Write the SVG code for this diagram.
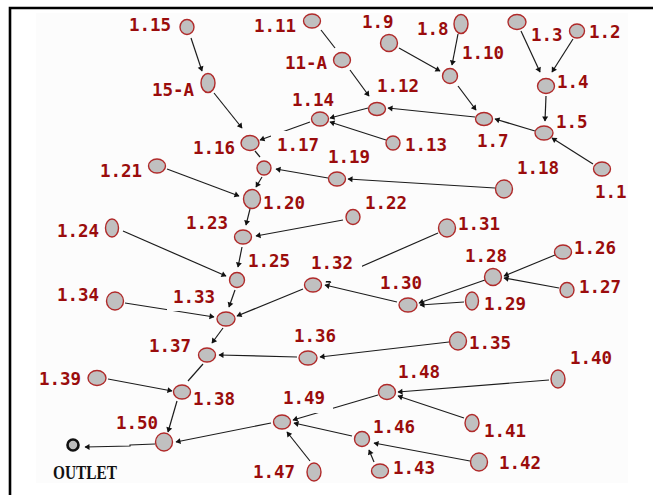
<svg xmlns="http://www.w3.org/2000/svg" width="653" height="495" viewBox="0 0 653 495">
<style>
.lbl{font-family:"DejaVu Sans Mono","Liberation Mono",monospace;font-weight:bold;font-size:17.5px;fill:#9a0c0c}
.out{font-family:"Liberation Serif","DejaVu Serif",serif;font-weight:bold;font-size:18px;fill:#111}
.nd{fill:#c0c0c0;stroke:#b02a2a;stroke-width:1.4}
.bg{fill:#fcfcfc}
.cn path{fill:none;stroke:#1c1c1c;stroke-width:1.2}
.cn .a{marker-end:url(#ah)}
</style>
<defs>
<marker id="ah" viewBox="-6 -4 7 8" refX="0" refY="0" markerWidth="7" markerHeight="8" markerUnits="userSpaceOnUse" orient="auto">
<path d="M0.5,0 L-4.5,-3 L-4.5,3 Z" fill="#111"/>
</marker>
</defs>
<rect x="0" y="0" width="653" height="495" fill="#ffffff"/>
<rect x="36" y="13" width="592" height="470" fill="#fcfcfc"/>
<path d="M10,495 V8 H653" fill="none" stroke="#000" stroke-width="2.6"/>

<g id="connectors" class="cn">
<path class="a" d="M191,38 L202,71"/>
<path class="a" d="M214,93 L242,128"/>
<path d="M321,30 L335,48"/>
<path class="a" d="M350,70 L369,96"/>
<path class="a" d="M475,117 L388,108"/>
<path class="a" d="M368,108 L330,118"/>
<path class="a" d="M386,140 L330,122"/>
<path class="a" d="M310,122 L260,140"/>
<path class="a" d="M399,48 L440,71"/>
<path class="a" d="M458,34 L452,65"/>
<path class="a" d="M458,86 L476,110"/>
<path class="a" d="M521,31 L540,72"/>
<path class="a" d="M573,39 L552,72"/>
<path class="a" d="M546,96 L545,121"/>
<path class="a" d="M535,131 L495,119"/>
<path class="a" d="M593,164 L552,138"/>
<path d="M255,151 L260,157"/>
<path class="a" d="M495,188 L348,179"/>
<path class="a" d="M328,178 L276,169"/>
<path class="a" d="M262,177 L256,187"/>
<path class="a" d="M167,169 L239,196"/>
<path class="a" d="M250,209 L246,225"/>
<path class="a" d="M343,220 L256,236"/>
<path class="a" d="M242,247 L238,267"/>
<path class="a" d="M123,231 L226,276"/>
<path class="a" d="M235,290 L229,307"/>
<path class="a" d="M125,303 L214,317"/>
<path class="a" d="M303,289 L237,316"/>
<path class="a" d="M438,233 L326,282"/>
<path class="a" d="M397,302 L325,285"/>
<path class="a" d="M485,280 L419,303"/>
<path class="a" d="M464,302 L420,305"/>
<path class="a" d="M555,255 L504,276"/>
<path class="a" d="M559,288 L504,278"/>
<path class="a" d="M223,328 L212,343"/>
<path class="a" d="M297,357 L219,355"/>
<path class="a" d="M449,342 L320,357"/>
<path d="M203,364 L188,381"/>
<path class="a" d="M108,379 L172,391"/>
<path class="a" d="M177,401 L168,432"/>
<path class="a" d="M271,423 L176,442"/>
<path class="a" d="M155,444 L130,445 L130,446 L85,447"/>
<path class="a" d="M378,395 L293,420"/>
<path class="a" d="M352,436 L294,423"/>
<path class="a" d="M310,461 L287,432"/>
<path class="a" d="M549,380 L398,392"/>
<path class="a" d="M464,418 L398,396"/>
<path class="a" d="M470,461 L374,443"/>
<path class="a" d="M374,462 L369,450"/>
</g>

<g id="n1_15"><ellipse class="nd" cx="187" cy="27" rx="7" ry="7.5"/><text class="lbl" x="129" y="31">1.15</text></g>
<g id="n15_A"><ellipse class="nd" cx="208" cy="83" rx="7" ry="9.5"/><text class="lbl" x="152" y="96">15-A</text></g>
<g id="n1_11"><ellipse class="nd" cx="312" cy="21" rx="8.5" ry="7"/><text class="lbl" x="254" y="32">1.11</text></g>
<g id="n11_A"><ellipse class="nd" cx="342" cy="60" rx="8.5" ry="7.5"/><text class="lbl" x="285" y="69">11-A</text></g>
<g id="n1_14"><ellipse class="nd" cx="320" cy="119" rx="8.5" ry="7"/><text class="lbl" x="292" y="106">1.14</text></g>
<g id="n1_12"><ellipse class="nd" cx="377" cy="109" rx="8.5" ry="6.5"/><text class="lbl" x="377" y="92">1.12</text></g>
<g id="n1_13"><ellipse class="nd" cx="393" cy="143" rx="7" ry="7"/><text class="lbl" x="405" y="151">1.13</text></g>
<g id="n1_16"><ellipse class="nd" cx="250" cy="143" rx="9" ry="7.5"/><text class="lbl" x="193" y="154">1.16</text></g>
<g id="n1_17"><rect class="bg" x="271" y="131" width="55" height="28"/><ellipse class="nd" cx="264" cy="168" rx="7" ry="7"/><text class="lbl" x="277" y="151">1.17</text></g>
<g id="n1_9"><ellipse class="nd" cx="389" cy="43" rx="8.5" ry="8.5"/><text class="lbl" x="362" y="28">1.9</text></g>
<g id="n1_8"><ellipse class="nd" cx="461" cy="24" rx="7" ry="9.5"/><text class="lbl" x="417" y="35">1.8</text></g>
<g id="n1_10"><ellipse class="nd" cx="450" cy="76" rx="7.5" ry="7.5"/><text class="lbl" x="462" y="59">1.10</text></g>
<g id="n1_3"><ellipse class="nd" cx="517" cy="22" rx="9" ry="7.5"/><text class="lbl" x="531" y="41">1.3</text></g>
<g id="n1_2"><ellipse class="nd" cx="577" cy="31" rx="7.5" ry="7"/><text class="lbl" x="589" y="38">1.2</text></g>
<g id="n1_4"><ellipse class="nd" cx="546" cy="86" rx="8.5" ry="7.5"/><text class="lbl" x="557" y="88">1.4</text></g>
<g id="n1_7"><ellipse class="nd" cx="484" cy="119" rx="8.5" ry="6.5"/><text class="lbl" x="477" y="147">1.7</text></g>
<g id="n1_5"><ellipse class="nd" cx="544" cy="133" rx="9" ry="7"/><text class="lbl" x="556" y="128">1.5</text></g>
<g id="n1_1"><ellipse class="nd" cx="602" cy="169" rx="8.5" ry="7"/><text class="lbl" x="595" y="198">1.1</text></g>
<g id="n1_18"><ellipse class="nd" cx="504" cy="189" rx="8.5" ry="9"/><text class="lbl" x="517" y="174">1.18</text></g>
<g id="n1_19"><ellipse class="nd" cx="337" cy="179" rx="8.5" ry="7"/><text class="lbl" x="328" y="163">1.19</text></g>
<g id="n1_21"><ellipse class="nd" cx="157" cy="166" rx="8.5" ry="7"/><text class="lbl" x="100" y="177">1.21</text></g>
<g id="n1_20"><ellipse class="nd" cx="252" cy="199" rx="8.5" ry="9.5"/><text class="lbl" x="263" y="209">1.20</text></g>
<g id="n1_23"><ellipse class="nd" cx="243" cy="237" rx="8.5" ry="7"/><text class="lbl" x="186" y="229">1.23</text></g>
<g id="n1_22"><ellipse class="nd" cx="353" cy="217" rx="7" ry="7.5"/><text class="lbl" x="365" y="209">1.22</text></g>
<g id="n1_24"><ellipse class="nd" cx="112" cy="228" rx="6.5" ry="9"/><text class="lbl" x="57" y="237">1.24</text></g>
<g id="n1_25"><ellipse class="nd" cx="237" cy="280" rx="7.5" ry="7.5"/><text class="lbl" x="248" y="267">1.25</text></g>
<g id="n1_31"><ellipse class="nd" cx="447" cy="228" rx="8.5" ry="9"/><text class="lbl" x="458" y="230">1.31</text></g>
<g id="n1_26"><ellipse class="nd" cx="563" cy="252" rx="8.5" ry="7"/><text class="lbl" x="574" y="254">1.26</text></g>
<g id="n1_28"><ellipse class="nd" cx="493" cy="277" rx="8.5" ry="8.5"/><text class="lbl" x="465" y="262">1.28</text></g>
<g id="n1_27"><ellipse class="nd" cx="567" cy="290" rx="7" ry="7.5"/><text class="lbl" x="579" y="293">1.27</text></g>
<g id="n1_30"><ellipse class="nd" cx="408" cy="305" rx="9" ry="7"/><text class="lbl" x="380" y="289">1.30</text></g>
<g id="n1_29"><ellipse class="nd" cx="472" cy="301" rx="6.5" ry="9"/><text class="lbl" x="484" y="310">1.29</text></g>
<g id="n1_32"><rect class="bg" x="304" y="249" width="58" height="32"/><ellipse class="nd" cx="313" cy="285" rx="8.5" ry="7"/><text class="lbl" x="311" y="269">1.32</text></g>
<g id="n1_33"><rect class="bg" x="167" y="283" width="54" height="28"/><ellipse class="nd" cx="226" cy="319" rx="9" ry="7"/><text class="lbl" x="173" y="303">1.33</text></g>
<g id="n1_34"><ellipse class="nd" cx="115" cy="301" rx="8.5" ry="9"/><text class="lbl" x="57" y="301">1.34</text></g>
<g id="n1_37"><ellipse class="nd" cx="207" cy="355" rx="8.5" ry="7"/><text class="lbl" x="149" y="352">1.37</text></g>
<g id="n1_36"><ellipse class="nd" cx="308" cy="358" rx="9" ry="7"/><text class="lbl" x="294" y="342">1.36</text></g>
<g id="n1_35"><ellipse class="nd" cx="458" cy="341" rx="8.5" ry="9"/><text class="lbl" x="469" y="349">1.35</text></g>
<g id="n1_39"><ellipse class="nd" cx="97" cy="378" rx="9" ry="7.5"/><text class="lbl" x="39" y="385">1.39</text></g>
<g id="n1_38"><ellipse class="nd" cx="182" cy="392" rx="8.5" ry="7"/><text class="lbl" x="193" y="405">1.38</text></g>
<g id="n1_50"><ellipse class="nd" cx="164" cy="442" rx="8.5" ry="9"/><text class="lbl" x="116" y="429">1.50</text></g>
<g id="n1_49"><rect class="bg" x="277" y="384" width="56" height="29"/><ellipse class="nd" cx="282" cy="422" rx="8.5" ry="7"/><text class="lbl" x="283" y="404">1.49</text></g>
<g id="n1_47"><ellipse class="nd" cx="314" cy="472" rx="7" ry="9"/><text class="lbl" x="253" y="478">1.47</text></g>
<g id="n1_40"><ellipse class="nd" cx="558" cy="379" rx="7" ry="9"/><text class="lbl" x="570" y="364">1.40</text></g>
<g id="n1_48"><ellipse class="nd" cx="387" cy="392" rx="8.5" ry="7.5"/><text class="lbl" x="398" y="378">1.48</text></g>
<g id="n1_41"><ellipse class="nd" cx="472" cy="423" rx="7" ry="8.5"/><text class="lbl" x="484" y="437">1.41</text></g>
<g id="n1_46"><ellipse class="nd" cx="362" cy="439" rx="7.5" ry="7.5"/><text class="lbl" x="373" y="433">1.46</text></g>
<g id="n1_43"><ellipse class="nd" cx="380" cy="471" rx="8.5" ry="7"/><text class="lbl" x="393" y="474">1.43</text></g>
<g id="n1_42"><ellipse class="nd" cx="479" cy="462" rx="8.5" ry="9"/><text class="lbl" x="499" y="469">1.42</text></g>
<g id="outlet"><circle cx="73" cy="445" r="5.5" fill="#bdbdbd" stroke="#111" stroke-width="2.6"/><text class="out" x="53" y="479" textLength="64" lengthAdjust="spacingAndGlyphs">OUTLET</text></g>
</svg>
